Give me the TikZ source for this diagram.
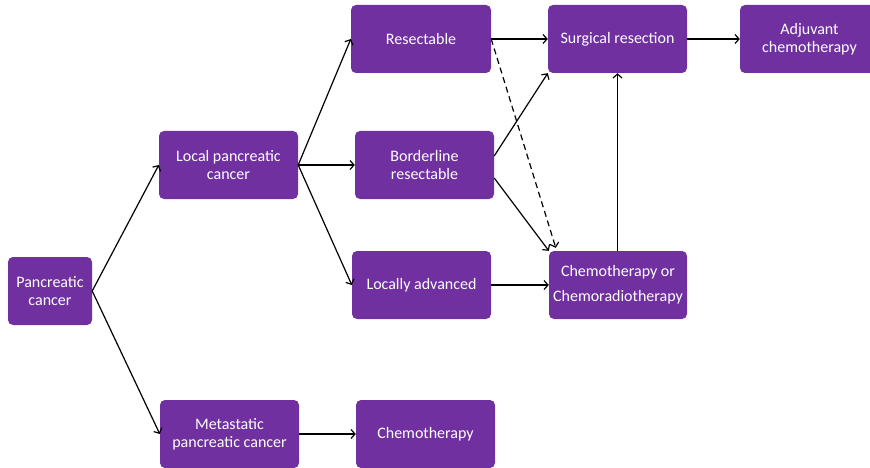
\documentclass[tikz,border=0pt]{standalone}
\usepackage{fontspec}
\setmainfont{Carlito}
\usetikzlibrary{arrows.meta}
\definecolor{boxpurple}{HTML}{7030A0}
\begin{document}
\begin{tikzpicture}[x=1pt,y=-1pt,
  box/.style={fill=boxpurple,draw=none,rounded corners=5pt,text=white,align=center,
    minimum width=139pt,minimum height=68pt,inner sep=0pt,font=\fontsize{16}{18}\selectfont},
  arr/.style={draw=black,line width=1.2pt,-{Straight Barb[length=4pt,width=9pt]}},
  dasharr/.style={arr,dash pattern=on 6pt off 4pt}]
\useasboundingbox (0,0) rectangle (870,468);
\clip (0,0) rectangle (870,468);
\node[box,minimum width=84pt] (pc) at (50,291) {Pancreatic\\cancer};
\node[box] (local) at (228.5,165) {Local pancreatic\\cancer};
\node[box] (meta) at (229.5,434) {Metastatic\\pancreatic cancer};
\node[box,minimum width=140pt] (res) at (421,39) {Resectable};
\node[box] (border) at (424.5,165) {Borderline\\resectable};
\node[box] (locadv) at (421.5,285) {Locally advanced};
\node[box] (chemo) at (425.5,434) {Chemotherapy};
\node[box] (surg) at (617.5,39) {Surgical resection};
\node[box,minimum width=138pt] (chemor) at (618,285) {Chemotherapy or\\[7pt]Chemoradiotherapy};
\node[box] (adj) at (809.5,39) {Adjuvant\\chemotherapy};
\draw[arr] (pc.east) -- (local.west);
\draw[arr] (pc.east) -- (meta.west);
\draw[arr] (local.east) -- (res.west);
\draw[arr] (local.east) -- (border.west);
\draw[arr] (local.east) -- (locadv.west);
\draw[arr] (res.east) -- (surg.west);
\draw[dasharr] (res.east) -- ([xshift=7pt,yshift=3pt]chemor.north west);
\draw[arr] ([yshift=9pt]border.east) -- (surg.south west);
\draw[arr] ([yshift=-13pt]border.east) -- (chemor.north west);
\draw[arr] (surg.south |- chemor.north) -- (surg.south);
\draw[arr] (locadv.east) -- (chemor.west);
\draw[arr] (meta.east) -- (chemo.west);
\draw[arr] (surg.east) -- (adj.west);
\end{tikzpicture}
\end{document}
